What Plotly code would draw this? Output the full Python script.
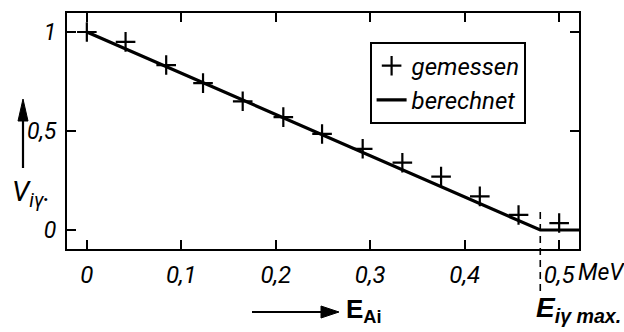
import plotly.graph_objects as go

# data
meas_x = [0.0, 0.041, 0.084, 0.123, 0.165, 0.208, 0.249, 0.292, 0.334, 0.375, 0.416, 0.457, 0.500]
meas_y = [1.0, 0.95, 0.833, 0.742, 0.65, 0.57, 0.485, 0.41, 0.34, 0.27, 0.17, 0.076, 0.035]
calc_x = [0.0, 0.48, 0.521]
calc_y = [1.0, 0.0, 0.0]
e_max = 0.48
x_ticks = [0, 0.1, 0.2, 0.3, 0.4, 0.5]
x_labels = ["0", "0,1", "0,2", "0,3", "0,4", "0,5"]
y_ticks = [0, 0.5, 1]
y_labels = ["0", "0,5", "1"]

FONT = "Roboto, Liberation Sans, sans-serif"
BFONT = "Liberation Sans, Roboto, sans-serif"

L, R, T, B = 67, 579, 13, 249
W, H = R - L, B - T


def px(x):
    return (x - L) / W


def py(y):
    return (B - y) / H


fig = go.Figure()
fig.add_trace(go.Scatter(x=calc_x, y=calc_y, mode="lines", name="berechnet",
                         line=dict(color="black", width=3.2)))
fig.add_trace(go.Scatter(x=meas_x, y=meas_y, mode="markers", name="gemessen",
                         marker=dict(symbol="cross-thin", size=14,
                                     line=dict(color="black", width=2.2), color="black")))

# dashed vertical line at E_max (extends below the axis)
fig.add_shape(type="line", xref="x", yref="paper", x0=e_max, x1=e_max,
              y0=py(291), y1=py(209), line=dict(color="black", width=1.6, dash="7px,5px"))

# arrows drawn as shapes (paper coordinates)
fig.add_shape(type="line", xref="paper", yref="paper", x0=px(23), x1=px(23),
              y0=py(168), y1=py(115), line=dict(color="black", width=2.2))
fig.add_shape(type="path", xref="paper", yref="paper",
              path=f"M {px(18)} {py(121)} L {px(23)} {py(99)} L {px(28)} {py(121)} Z",
              fillcolor="black", line=dict(color="black", width=1))
fig.add_shape(type="line", xref="paper", yref="paper", x0=px(252), x1=px(326),
              y0=py(312), y1=py(312), line=dict(color="black", width=2.2))
fig.add_shape(type="path", xref="paper", yref="paper",
              path=f"M {px(321)} {py(306)} L {px(339)} {py(312)} L {px(321)} {py(318)} Z",
              fillcolor="black", line=dict(color="black", width=1))

axis_common = dict(showline=True, linecolor="black", linewidth=2, mirror="ticks",
                   ticks="inside", ticklen=9, tickwidth=1.6, tickcolor="black",
                   showgrid=False, zeroline=False)

fig.update_xaxes(range=[-0.021, 0.521], tickvals=x_ticks, ticktext=x_labels,
                 ticklabelstandoff=3,
                 tickfont=dict(family=FONT, size=24, color="black", style="italic"),
                 **axis_common)
fig.update_yaxes(range=[-0.096, 1.096], tickvals=y_ticks, ticktext=y_labels,
                 ticklabelstandoff=4,
                 tickfont=dict(family=FONT, size=23, color="black", style="italic"),
                 **axis_common)

ann = []
# MeV after 0,5
ann.append(dict(x=0.5, y=py(257), xref="x", yref="paper", text="MeV", showarrow=False,
                xanchor="left", yanchor="top", xshift=17,
                font=dict(family=FONT, size=23, color="black", style="italic")))
# y axis label
ann.append(dict(x=px(10), y=py(214), xref="paper", yref="paper",
                text="V<sub>iγ</sub>.", showarrow=False, xanchor="left",
                font=dict(family=FONT, size=28, color="black", style="italic")))
# x axis label
ann.append(dict(x=px(344), y=py(329), xref="paper", yref="paper",
                text="<b>E<sub>Ai</sub></b>", showarrow=False, xanchor="left",
                font=dict(family=BFONT, size=26, color="black")))
ann.append(dict(x=px(623), y=py(329), xref="paper", yref="paper",
                text="<b><i>E<sub>iγ max.</sub></i></b>", showarrow=False, xanchor="right",
                font=dict(family=BFONT, size=28, color="black")))

fig.update_layout(
    width=624, height=332,
    margin=dict(l=L, r=624 - R, t=T, b=332 - B),
    paper_bgcolor="white", plot_bgcolor="white",
    annotations=ann,
    legend=dict(x=px(526), y=py(42), xanchor="right", yanchor="top",
                bordercolor="black", borderwidth=1.6, bgcolor="white",
                traceorder="reversed", tracegroupgap=0,
                font=dict(family=FONT, size=24, color="black", style="italic")),
    showlegend=True,
)

fig.write_html("out.html", config={"displayModeBar": False},
               post_script="document.body.style.margin='0';")
